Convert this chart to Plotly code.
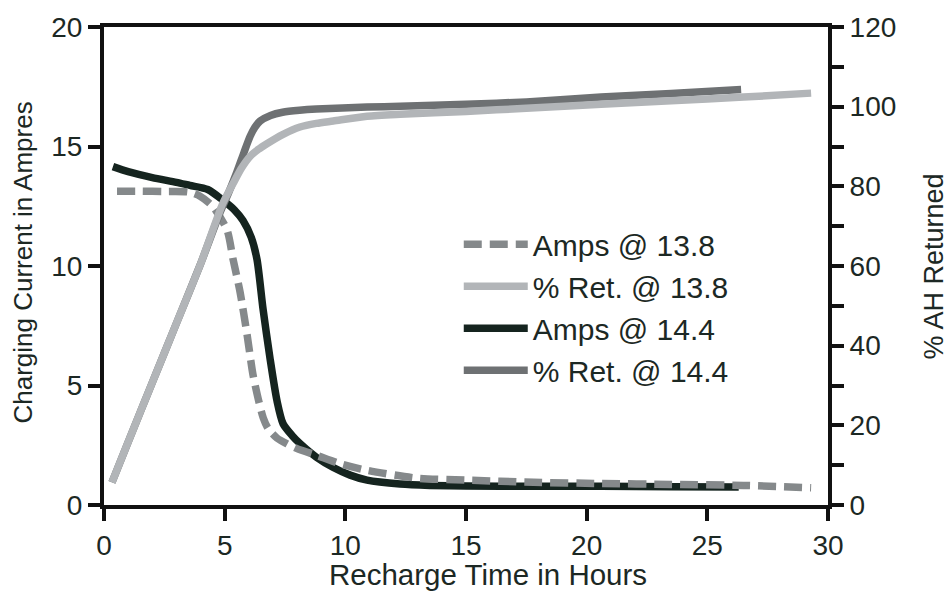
import plotly.graph_objects as go

# Recharge curves: charging current (left axis) and % AH returned (right axis)
hours_amps_138 = [0.54, 1.5, 2.5, 3.5, 3.98, 4.5, 5.1, 5.35, 5.64, 5.93, 6.17, 6.4, 6.6, 6.8,
                  7.17, 7.6, 8.0, 8.83, 9.8, 10.9, 13.0, 15.0, 17.8, 20.6, 23.5, 26.5, 29.3]
amps_138 = [13.13, 13.13, 13.12, 13.1, 12.92, 12.5, 11.5, 10.27, 8.9, 7.12, 5.47, 4.4, 3.64, 3.2,
            2.8, 2.55, 2.36, 2.07, 1.72, 1.45, 1.12, 1.04, 0.95, 0.9, 0.86, 0.82, 0.72]

hours_pct_138 = [0.33, 1.0, 2.0, 3.0, 4.0, 4.93, 5.35, 5.7, 6.05, 6.4, 6.75, 7.4, 8.12, 8.8,
                 9.5, 10.9, 12.27, 15.0, 17.5, 20.6, 23.5, 26.5, 29.3]
pct_138 = [5.7, 15.8, 30.7, 45.6, 60.5, 75.8, 80.7, 84.6, 87.5, 89.3, 90.7, 93.0, 94.9, 95.8,
           96.4, 97.6, 98.1, 98.8, 99.6, 100.6, 101.5, 102.4, 103.4]

hours_amps_144 = [0.37, 1.0, 2.0, 3.0, 3.56, 4.3, 4.93, 5.4, 5.76, 6.1, 6.34, 6.59, 6.88, 7.17,
                  7.42, 7.8, 8.12, 8.8, 9.5, 10.2, 10.9, 12.27, 13.5, 15.0, 17.8, 20.6, 23.5, 26.3]
amps_144 = [14.16, 13.95, 13.7, 13.5, 13.37, 13.2, 12.75, 12.35, 11.9, 11.2, 10.27, 8.2, 6.13, 4.35,
            3.4, 2.9, 2.57, 2.0, 1.57, 1.25, 1.04, 0.88, 0.82, 0.79, 0.78, 0.78, 0.76, 0.75]

hours_pct_144 = [0.33, 1.0, 2.0, 3.0, 4.0, 4.8, 5.15, 5.5, 5.8, 6.05, 6.25, 6.47, 6.9, 7.4,
                 8.1, 8.8, 10.9, 12.27, 15.0, 17.5, 20.6, 23.5, 26.4]
pct_144 = [5.7, 15.8, 30.7, 45.6, 60.5, 73.3, 78.2, 83.5, 88.5, 92.5, 94.8, 96.4, 97.8, 98.6,
           99.1, 99.4, 99.9, 100.1, 100.6, 101.2, 102.4, 103.3, 104.3]

x_ticks = [0, 5, 10, 15, 20, 25, 30]
amp_ticks = [0, 5, 10, 15, 20]
pct_ticks = [0, 20, 40, 60, 80, 100, 120]

FONT = "Liberation Sans, Arial, sans-serif"
INK = "#1c2824"
AXIS = "#111111"

fig = go.Figure()

# drawing order (bottom to top); legend order set with legendrank
fig.add_trace(go.Scatter(x=hours_amps_144, y=amps_144, mode="lines", name="Amps @ 14.4",
                         line=dict(color="#15241f", width=7.5, shape="spline", smoothing=0.7),
                         yaxis="y", legendrank=3))
fig.add_trace(go.Scatter(x=hours_pct_144, y=pct_144, mode="lines", name="% Ret. @ 14.4",
                         line=dict(color="#6e7173", width=7.5, shape="spline", smoothing=0.7),
                         yaxis="y2", legendrank=4))
fig.add_trace(go.Scatter(x=hours_amps_138, y=amps_138, mode="lines", name="Amps @ 13.8",
                         line=dict(color="#85898b", width=7.5, dash="18px,8px",
                                   shape="spline", smoothing=0.7),
                         yaxis="y", legendrank=1))
fig.add_trace(go.Scatter(x=hours_pct_138, y=pct_138, mode="lines", name="% Ret. @ 13.8",
                         line=dict(color="#b2b5b8", width=7.5, shape="spline", smoothing=0.7),
                         yaxis="y2", legendrank=2))

axis_common = dict(showgrid=False, zeroline=False, showline=True, linecolor=AXIS, linewidth=4,
                   ticks="outside", ticklen=12, tickwidth=3.5, tickcolor=AXIS,
                   tickfont=dict(family=FONT, size=28, color=INK))

fig.update_layout(
    width=950, height=595,
    margin=dict(l=104, r=122, t=22, b=90),
    paper_bgcolor="white", plot_bgcolor="white",
    font=dict(family=FONT, color=INK),
    xaxis=dict(range=[0, 30], tickvals=x_ticks, mirror=True, **axis_common),
    yaxis=dict(range=[0, 20], tickvals=amp_ticks, **axis_common),
    yaxis2=dict(range=[0, 120], tickvals=pct_ticks, overlaying="y", side="right",
                minor=dict(dtick=10, ticks="outside", ticklen=12, tickwidth=3.5, tickcolor=AXIS),
                **axis_common),
    legend=dict(x=0.49, y=0.60, xanchor="left", yanchor="top",
                bgcolor="rgba(0,0,0,0)", font=dict(family=FONT, size=30, color=INK),
                itemwidth=64, tracegroupgap=0),
    showlegend=True,
    annotations=[
        dict(text="Recharge Time in Hours", xref="paper", yref="paper", x=0.530, y=-0.145,
             xanchor="center", yanchor="middle", showarrow=False,
             font=dict(family=FONT, size=29.5, color=INK)),
        dict(text="Charging Current in Ampres", xref="paper", yref="paper", x=-0.112, y=0.507,
             xanchor="center", yanchor="middle", textangle=-90, showarrow=False,
             font=dict(family=FONT, size=26, color=INK)),
        dict(text="% AH Returned", xref="paper", yref="paper", x=1.1465, y=0.499,
             xanchor="center", yanchor="middle", textangle=-90, showarrow=False,
             font=dict(family=FONT, size=27, color=INK)),
    ],
)

fig.write_html("out.html")
